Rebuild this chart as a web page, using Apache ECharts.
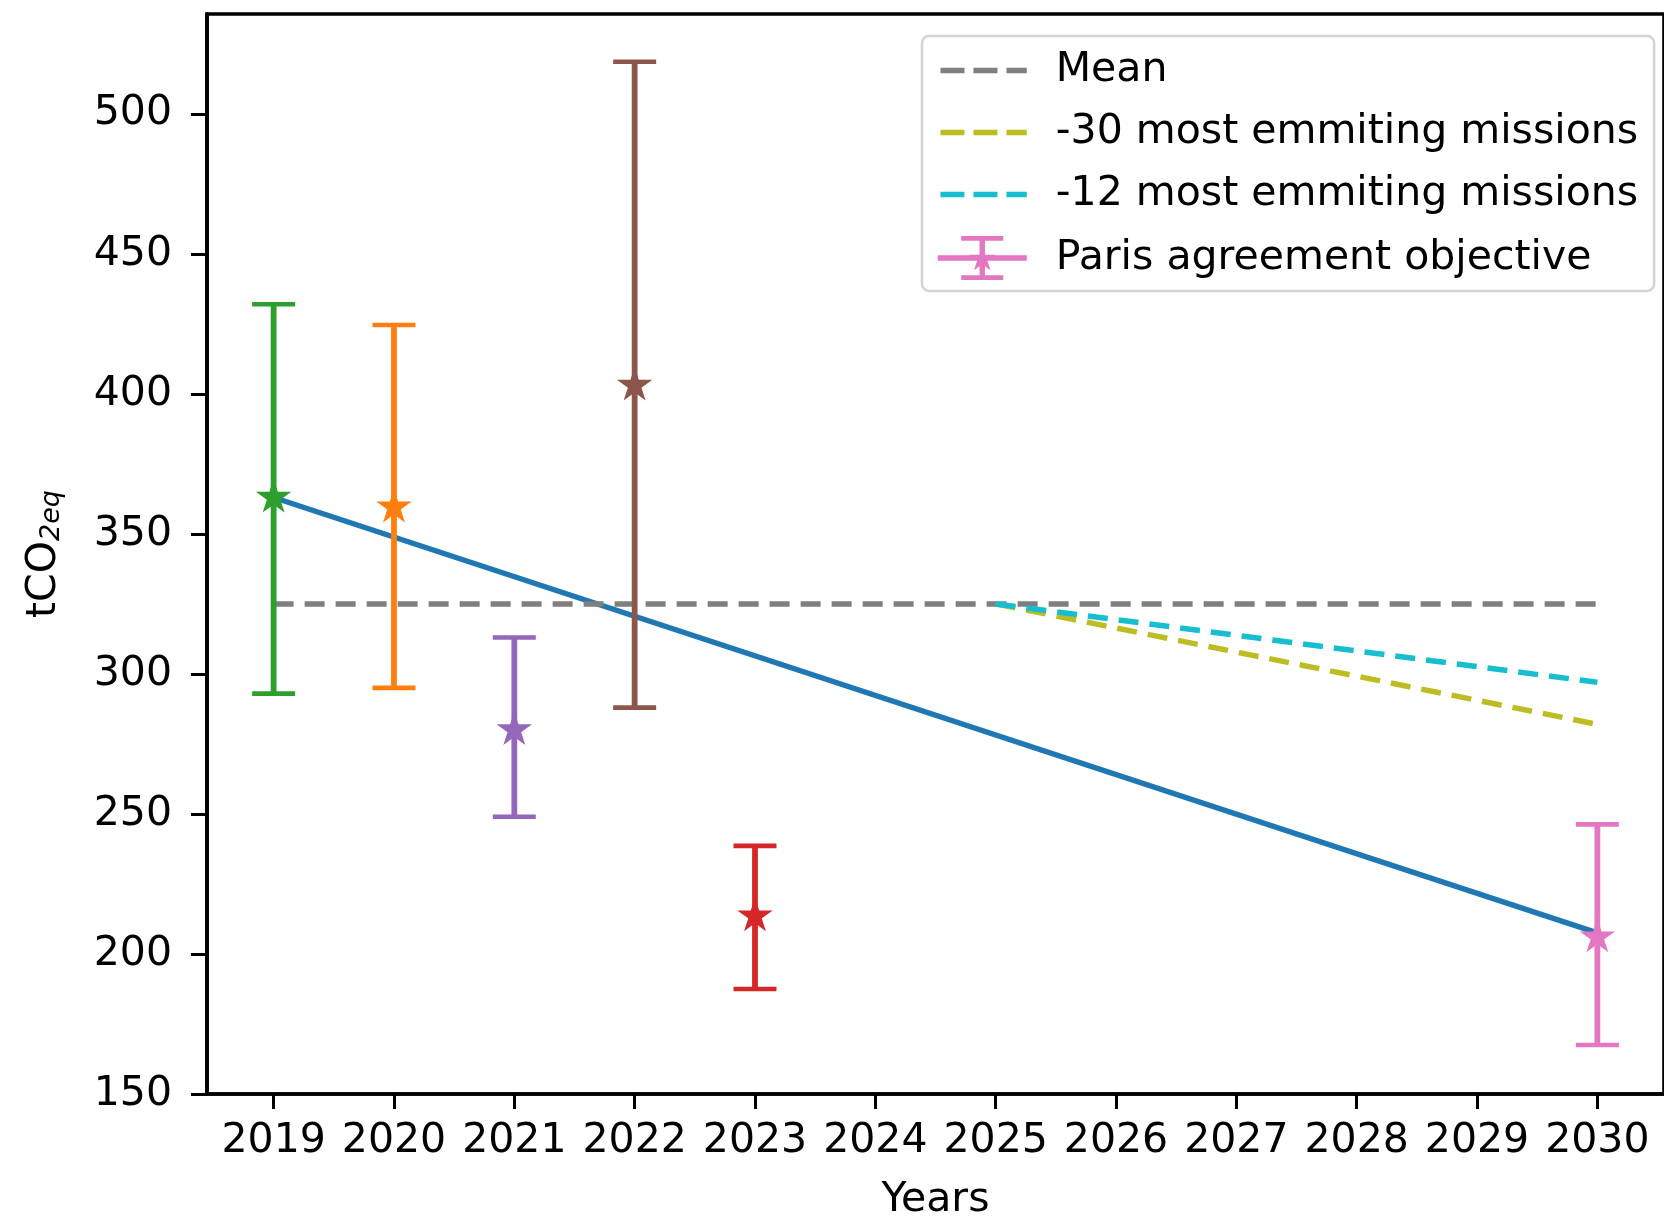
<!DOCTYPE html>
<html>
<head>
<meta charset="utf-8">
<script src="https://cdn.jsdelivr.net/npm/echarts@6/dist/echarts.min.js"></script>
<style>
html,body{margin:0;padding:0;background:#fff;}
#chart{width:1664px;height:1226px;}
</style>
</head>
<body>
<div id="chart"></div>
<script>
// ---------------- data ----------------
const xTicks = [2019, 2020, 2021, 2022, 2023, 2024, 2025, 2026, 2027, 2028, 2029, 2030];
const yTicks = [150, 200, 250, 300, 350, 400, 450, 500];

const errYears   = [2019, 2020, 2021, 2022, 2023];
const errCenter  = [363, 359.5, 280, 403, 213.5];
const errLow     = [293, 295, 249, 288, 187.5];
const errHigh    = [432, 424.6, 313, 518.6, 238.6];

const parisYear   = [2030];
const parisCenter = [206];
const parisLow    = [167.5];
const parisHigh   = [246.3];

const trendYears  = [2019, 2030];
const trendValues = [363, 207.5];

const meanYears   = [2019, 2030];
const meanValues  = [325, 325];

const m30Years    = [2025, 2030];
const m30Values   = [325, 282];

const m12Years    = [2025, 2030];
const m12Values   = [325, 297];

// ---------------- styles ----------------
const errColors = ['#2ca02c', '#ff7f0e', '#9467bd', '#8c564b', '#d62728'];
const FONT = 'DejaVu Sans';
const FS = 41;

function starPoints(cx, cy, R) {
  const r = R * 0.381966;
  const pts = [];
  for (let k = 0; k < 10; k++) {
    const a = (-90 + k * 36) * Math.PI / 180;
    const rr = (k % 2 === 0) ? R : r;
    pts.push([cx + rr * Math.cos(a), cy + rr * Math.sin(a)]);
  }
  return pts;
}

function makeErrRender(colorFn) {
  return function (params, api) {
    const x = api.value(0), lo = api.value(1), hi = api.value(2), c = api.value(3);
    const color = colorFn(params.dataIndex);
    const pLo = api.coord([x, lo]);
    const pHi = api.coord([x, hi]);
    const pC = api.coord([x, c]);
    const half = 21.5;
    return {
      type: 'group',
      children: [
        { type: 'line', shape: { x1: pLo[0], y1: pLo[1], x2: pHi[0], y2: pHi[1] }, style: { stroke: color, lineWidth: 5.8 } },
        { type: 'line', shape: { x1: pHi[0] - half, y1: pHi[1], x2: pHi[0] + half, y2: pHi[1] }, style: { stroke: color, lineWidth: 4.7 } },
        { type: 'line', shape: { x1: pLo[0] - half, y1: pLo[1], x2: pLo[0] + half, y2: pLo[1] }, style: { stroke: color, lineWidth: 4.7 } },
        { type: 'polygon', shape: { points: starPoints(pC[0], pC[1], 13) }, style: { fill: color, stroke: color, lineWidth: 3.5, lineJoin: 'miter' } }
      ]
    };
  };
}

function pairs(xs, ys) { return xs.map((x, i) => [x, ys[i]]); }
function errData(xs, lo, hi, c) { return xs.map((x, i) => [x, lo[i], hi[i], c[i]]); }

// legend icon for the error-bar entry (box 89 x 44)
function parisIcon() {
  let p = 'path://M0 19.3 H89 V24.7 H0 Z ';
  p += 'M41.8 1 H47.2 V43 H41.8 Z ';
  p += 'M23.5 0 H65.5 V4.7 H23.5 Z ';
  p += 'M23.5 39.3 H65.5 V44 H23.5 Z ';
  const sp = starPoints(44.5, 23, 14);
  p += 'M' + sp.map(q => q[0].toFixed(2) + ' ' + q[1].toFixed(2)).join(' L') + ' Z';
  return p;
}

const hiddenSymbol = { opacity: 0, color: 'rgba(0,0,0,0)', borderWidth: 0 };

const chart = echarts.init(document.getElementById('chart'), null, { renderer: 'canvas' });

const option = {
  animation: false,
  backgroundColor: '#fff',
  textStyle: { fontFamily: FONT },
  grid: {
    left: 207, top: 14, width: 1465, height: 1091,
    show: true, borderColor: '#000', borderWidth: 3.6, backgroundColor: 'transparent'
  },
  xAxis: {
    type: 'value',
    min: 2018.4463, max: 2030.5537,
    name: 'Years', nameLocation: 'middle', nameGap: 86,
    nameTextStyle: { fontFamily: FONT, fontSize: FS, color: '#000' },
    axisLine: { show: true, lineStyle: { color: '#000', width: 3.6 } },
    axisTick: { show: true, inside: false, length: 15, lineStyle: { color: '#000', width: 3 }, customValues: xTicks },
    axisLabel: { fontFamily: FONT, fontSize: FS, color: '#000', margin: 27, customValues: xTicks, formatter: v => String(v) },
    splitLine: { show: false }
  },
  yAxis: {
    type: 'value',
    min: 150, max: 535.65,
    name: '{m|tCO}{s|2eq}', nameLocation: 'middle', nameGap: 142, nameRotate: 90,
    nameTextStyle: {
      fontFamily: FONT, color: '#000',
      rich: {
        m: { fontFamily: FONT, fontSize: FS, color: '#000', lineHeight: 42 },
        s: { fontFamily: FONT, fontSize: 27, fontStyle: 'italic', color: '#000', verticalAlign: 'bottom', lineHeight: 16 }
      }
    },
    axisLine: { show: true, lineStyle: { color: '#000', width: 3.6 } },
    axisTick: { show: true, inside: false, length: 16, lineStyle: { color: '#000', width: 3 }, customValues: yTicks },
    axisLabel: { fontFamily: FONT, fontSize: FS, color: '#000', margin: 35, customValues: yTicks, formatter: v => String(v) },
    splitLine: { show: false }
  },
  legend: {
    orient: 'vertical',
    left: 922, top: 36,
    padding: [14, 16, 11, 13],
    itemWidth: 89, itemHeight: 44, itemGap: 21,
    backgroundColor: 'rgba(255,255,255,0.8)',
    borderColor: '#d3d3d3', borderWidth: 2.5, borderRadius: 7,
    lineStyle: { width: 5.5, type: [24, 9], dashOffset: 30.3 },
    textStyle: { fontFamily: FONT, fontSize: FS, color: '#000', padding: [0, 0, 0, 24] },
    data: [
      { name: 'Mean', itemStyle: hiddenSymbol },
      { name: '-30 most emmiting missions', itemStyle: hiddenSymbol },
      { name: '-12 most emmiting missions', itemStyle: hiddenSymbol },
      { name: 'Paris agreement objective', icon: parisIcon() }
    ]
  },
  series: [
    {
      name: 'Trend', type: 'line', data: pairs(trendYears, trendValues),
      symbol: 'none', lineStyle: { color: '#1f77b4', width: 5.5 }, itemStyle: { color: '#1f77b4' }, z: 2
    },
    {
      name: 'Mean', type: 'line', data: pairs(meanYears, meanValues),
      symbol: 'none', lineStyle: { color: '#7f7f7f', width: 5.5, type: [20, 11] }, itemStyle: { color: '#7f7f7f' }, z: 2
    },
    {
      name: '-30 most emmiting missions', type: 'line', data: pairs(m30Years, m30Values),
      symbol: 'none', lineStyle: { color: '#bcbd22', width: 5.5, type: [20, 11] }, itemStyle: { color: '#bcbd22' }, z: 2
    },
    {
      name: '-12 most emmiting missions', type: 'line', data: pairs(m12Years, m12Values),
      symbol: 'none', lineStyle: { color: '#17becf', width: 5.5, type: [20, 11] }, itemStyle: { color: '#17becf' }, z: 2
    },
    {
      name: 'Yearly', type: 'custom', data: errData(errYears, errLow, errHigh, errCenter),
      renderItem: makeErrRender(i => errColors[i]), encode: { x: 0, y: [1, 2, 3] }, z: 3, clip: false
    },
    {
      name: 'Paris agreement objective', type: 'custom', data: errData(parisYear, parisLow, parisHigh, parisCenter),
      renderItem: makeErrRender(() => '#e377c2'), itemStyle: { color: '#e377c2' },
      encode: { x: 0, y: [1, 2, 3] }, z: 3, clip: false
    }
  ]
};
chart.setOption(option);
</script>
</body>
</html>
